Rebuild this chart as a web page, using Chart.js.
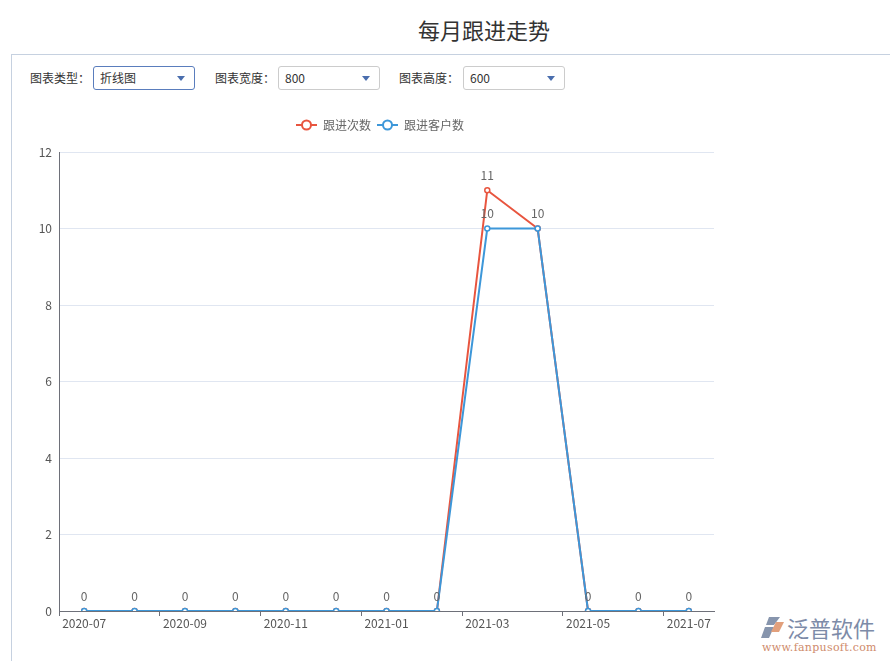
<!DOCTYPE html>
<html>
<head>
<meta charset="utf-8">
<script src="https://cdn.jsdelivr.net/npm/chart.js@4/dist/chart.umd.min.js"></script>
<style>
  body { margin: 0; background: #fff; font-family: "Noto Sans CJK SC", "Noto Sans", sans-serif; width: 890px; height: 661px; overflow: hidden; position: relative; }
  .title { position: absolute; left: 418px; top: 13px; font-size: 22px; color: #333; }
  .panel { position: absolute; left: 11px; top: 54px; width: 900px; height: 700px; border-top: 1px solid #c6d1e0; border-left: 1px solid #c6d1e0; }
  .lbl { position: absolute; top: 69px; font-size: 12px; color: #333; line-height: 18px; }
  .sel { position: absolute; top: 66px; height: 22px; border: 1px solid #ccc; border-radius: 3px; font-size: 12px; color: #333; line-height: 22px; padding-left: 6px; box-sizing: content-box; width: 94px; }
  .sel.on { border-color: #5a7dbd; }
  .sel:after { content: ""; position: absolute; right: 9px; top: 9px; border-left: 4px solid transparent; border-right: 4px solid transparent; border-top: 5px solid #4a6eae; }
  #lineChart { position: absolute; left: 12px; top: 100px; }
  .logo { position: absolute; left: 760px; top: 614px; }
  .logo .cn { position: absolute; left: 27px; top: 0; font-size: 22px; color: #7d8ba8; line-height: 26px; white-space: nowrap; }
  .logo .url { position: absolute; left: 2px; top: 27px; font-family: "DejaVu Serif", serif; font-size: 11px; color: #cf8b6c; white-space: nowrap; letter-spacing: 0.3px; }
</style>
</head>
<body>
<div class="title">每月跟进走势</div>
<div class="panel"></div>
<div class="lbl" style="left:30px">图表类型：</div>
<div class="sel on" style="left:93px">折线图</div>
<div class="lbl" style="left:215px">图表宽度：</div>
<div class="sel" style="left:278px">800</div>
<div class="lbl" style="left:399px">图表高度：</div>
<div class="sel" style="left:463px">600</div>
<canvas id="lineChart" width="740" height="541"></canvas>
<div class="logo">
  <svg width="26" height="24" viewBox="0 0 26 24" style="position:absolute;left:0;top:2px">
    <path d="M9 1 L20 1 L14 9 L6 9 Z" fill="#8795ad"/>
    <path d="M5 11 L14 11 L9 22 L1 22 Z" fill="#8795ad"/>
    <path d="M16 6 L24 6 L19 16 L11 16 Z" fill="#e2a07c"/>
  </svg>
  <div class="cn">泛普软件</div>
  <div class="url">www.fanpusoft.com</div>
</div>
<script>
const months = ['2020-07', '2020-08', '2020-09', '2020-10', '2020-11', '2020-12', '2021-01',
  '2021-02', '2021-03', '2021-04', '2021-05', '2021-06', '2021-07'];
const followCount = [0, 0, 0, 0, 0, 0, 0, 0, 11, 10, 0, 0, 0];
const followCustomers = [0, 0, 0, 0, 0, 0, 0, 0, 10, 10, 0, 0, 0];
const yTicks = [0, 2, 4, 6, 8, 10, 12];

const RED = '#e8553f';
const BLUE = '#3d97d9';
const AXIS = '#6e7079';
const FONT = '"Noto Sans CJK SC", "Noto Sans", sans-serif';

// little "line with a hollow dot" icon for the legend
function legendIcon(color) {
  const c = document.createElement('canvas');
  c.width = 21; c.height = 12;
  const g = c.getContext('2d');
  g.strokeStyle = color;
  g.lineWidth = 2;
  g.beginPath(); g.moveTo(0, 6); g.lineTo(21, 6); g.stroke();
  g.beginPath(); g.arc(10.5, 6, 4.5, 0, Math.PI * 2);
  g.fillStyle = '#fff'; g.fill(); g.stroke();
  return c;
}

// legend: extra room below it, nudged a bit left
const legendTweak = {
  id: 'legendTweak',
  beforeInit(chart) {
    const lg = chart.legend;
    if (!lg) return;
    const fit = lg.fit;
    lg.fit = function() {
      fit.call(this);
      this.height += 11;
      if (this.lineWidths && this.lineWidths.length) this.lineWidths[0] += 13;
    };
  }
};

const valueLabels = {
  id: 'valueLabels',
  afterDatasetsDraw(chart) {
    const ctx = chart.ctx;
    const seen = {};
    ctx.save();
    ctx.font = '12px ' + FONT;
    ctx.fillStyle = '#666';
    ctx.textAlign = 'center';
    ctx.textBaseline = 'bottom';
    chart.data.datasets.forEach((ds, di) => {
      chart.getDatasetMeta(di).data.forEach((pt, i) => {
        const key = i + ':' + ds.data[i];
        if (seen[key]) return;
        seen[key] = true;
        ctx.fillText(String(ds.data[i]), pt.x, pt.y - 9);
      });
    });
    ctx.restore();
  }
};

const lineChart = new Chart(document.getElementById('lineChart').getContext('2d'), {
  type: 'line',
  data: {
    labels: months,
    datasets: [{
      label: '跟进次数',
      data: followCount,
      borderColor: RED,
      backgroundColor: '#fff',
      borderWidth: 2,
      pointRadius: 2.5,
      pointBorderWidth: 1.5,
      pointBackgroundColor: '#fff',
      tension: 0,
      order: 2
    }, {
      label: '跟进客户数',
      data: followCustomers,
      borderColor: BLUE,
      backgroundColor: '#fff',
      borderWidth: 2,
      pointRadius: 2.5,
      pointBorderWidth: 1.5,
      pointBackgroundColor: '#fff',
      tension: 0,
      order: 1
    }]
  },
  options: {
    responsive: false,
    animation: false,
    layout: { padding: { top: 13, left: 0, right: 38, bottom: 0 } },
    plugins: {
      tooltip: { enabled: false },
      legend: {
        fullSize: false,
        labels: {
          usePointStyle: true,
          pointStyleWidth: 21,
          padding: 6,
          color: '#666',
          font: { size: 12, family: FONT },
          generateLabels(chart) {
            return chart.data.datasets.map((ds, i) => ({
              text: ds.label,
              datasetIndex: i,
              fontColor: '#666',
              pointStyle: legendIcon(ds.borderColor),
              lineWidth: 0,
              strokeStyle: 'transparent',
              fillStyle: 'transparent'
            }));
          }
        }
      }
    },
    scales: {
      x: {
        offset: true,
        afterFit(scale) { scale.height = 30; },
        grid: {
          offset: true,
          drawOnChartArea: false,
          tickLength: 5,
          tickColor(ctx) {
            return (ctx.index % 2 === 0 || ctx.index === months.length) ? AXIS : 'transparent';
          }
        },
        border: { color: AXIS, width: 1 },
        ticks: {
          autoSkip: false,
          maxRotation: 0,
          padding: 0,
          color: '#555',
          font: { size: 12, family: FONT },
          callback(value, index) {
            return index % 2 === 0 ? this.getLabelForValue(value) : '';
          }
        }
      },
      y: {
        min: yTicks[0],
        max: yTicks[yTicks.length - 1],
        afterFit(scale) { scale.width = 47; },
        afterBuildTicks(scale) { scale.ticks = yTicks.map(v => ({ value: v })); },
        grid: { color: '#e0e6f1', drawTicks: false },
        border: { color: AXIS, width: 1 },
        ticks: {
          padding: 7,
          color: '#555',
          font: { size: 12, family: FONT }
        }
      }
    }
  },
  plugins: [legendTweak, valueLabels]
});
</script>
</body>
</html>
